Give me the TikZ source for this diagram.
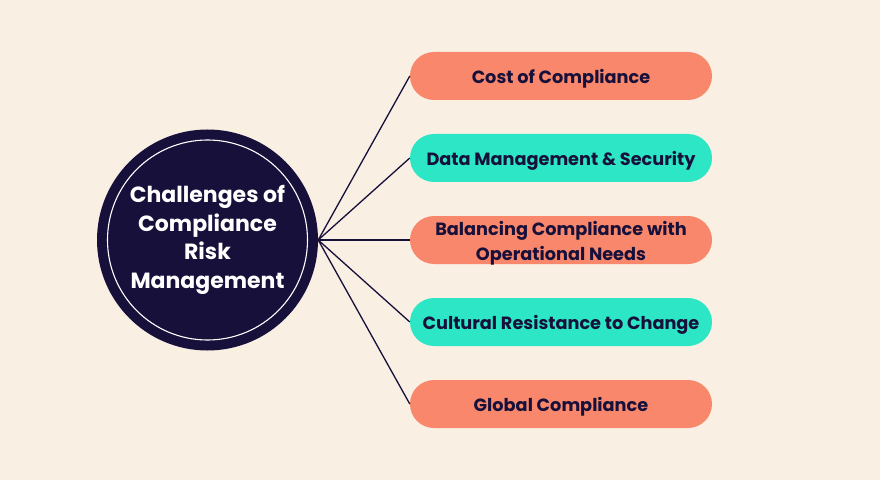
\documentclass[tikz,border=0pt]{standalone}
\usepackage{fontspec}
\setmainfont{Poppins}
\definecolor{cream}{HTML}{F9EFE3}
\definecolor{navy}{HTML}{16103A}
\definecolor{salmon}{HTML}{F8876B}
\definecolor{teal}{HTML}{2DE6C6}
\begin{document}
\begin{tikzpicture}[x=1pt,y=1pt,
    challenge/.style={rounded corners=24pt, minimum width=302pt, minimum height=48pt,
      inner sep=0pt, align=center, text=navy, text height=15.4pt, text depth=0pt,
      font=\bfseries\fontsize{17.7}{25}\selectfont},
    link/.style={navy, line width=1.3pt}]
    \fill[cream] (0,0) rectangle (880,480);

    \node[circle, fill=navy, minimum size=221pt, inner sep=0pt] (hub) at (207.5,240) {};
    \draw[white, line width=1.1pt] (hub.center) circle (100);
    \node[text=white, align=center, font=\bfseries\fontsize{22}{28.5}\selectfont] (title) at (hub.center) {Challenges of\\Compliance\\Risk\\Management};

    \node[challenge, fill=salmon] (cost) at (561,404) {Cost of Compliance};
    \node[challenge, fill=teal] (data) at (561,322) {Data Management \& Security};
    \node[challenge, fill=salmon, text height=40.4pt] (balance) at (561,240) {Balancing Compliance with\\Operational Needs};
    \node[challenge, fill=teal] (culture) at (561,158) {Cultural Resistance to Change};
    \node[challenge, fill=salmon] (global) at (561,76) {Global Compliance};

    \draw[link] (hub.east) -- (cost.west);
    \draw[link] (hub.east) -- (data.west);
    \draw[link] (hub.east) -- (balance.west);
    \draw[link] (hub.east) -- (culture.west);
    \draw[link] (hub.east) -- (global.west);
\end{tikzpicture}
\end{document}
